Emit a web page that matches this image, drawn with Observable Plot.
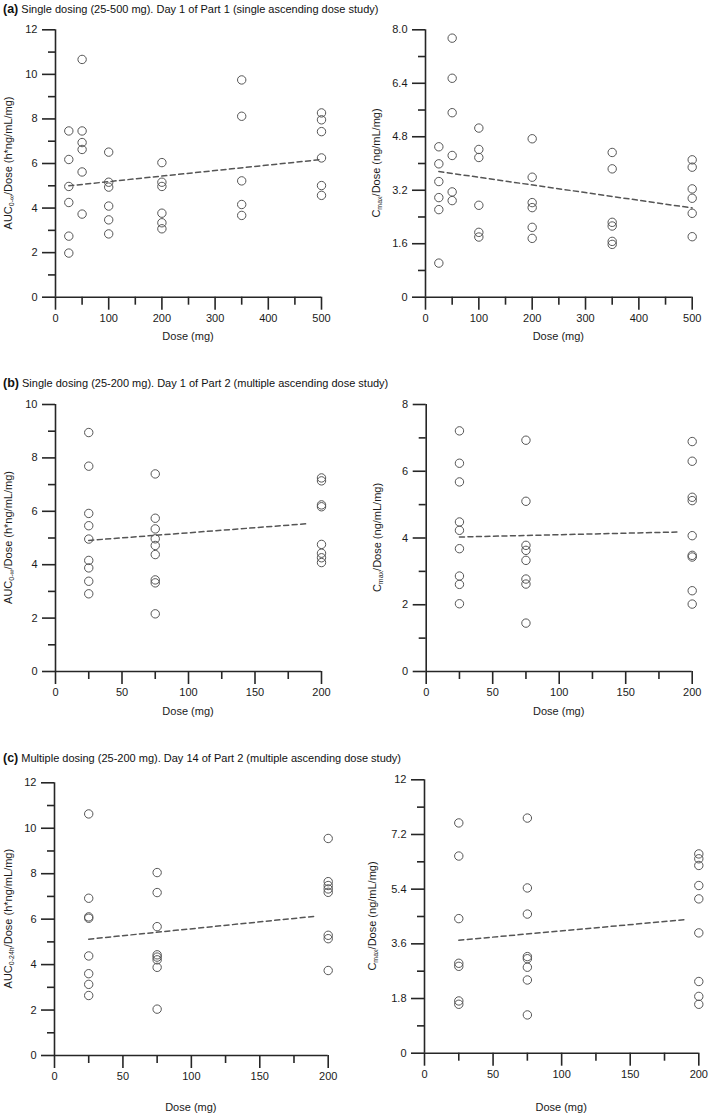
<!DOCTYPE html>
<html><head><meta charset="utf-8">
<script src="https://cdn.jsdelivr.net/npm/d3@7"></script>
<script src="https://cdn.jsdelivr.net/npm/@observablehq/plot@0.6"></script>
<style>
body{margin:0;background:#fff;font-family:"Liberation Sans",Arial,sans-serif;}
#wrap{position:relative;width:709px;height:1115px;overflow:hidden;}
.title{position:absolute;left:3px;font-size:11px;line-height:14px;color:#111;white-space:nowrap;}
.title b{font-size:12.5px;}
.panel{position:absolute;}
</style></head><body><div id="wrap"></div>
<script>
// ---------- Data ----------
const doseSAD = [25, 50, 100, 200, 350, 500];
const aucSAD = [
  [7.46, 6.18, 4.97, 4.25, 2.74, 1.98],
  [10.67, 7.46, 6.94, 6.63, 5.62, 3.73],
  [6.51, 5.16, 4.94, 4.09, 3.47, 2.84],
  [6.04, 5.16, 4.97, 3.77, 3.34, 3.07],
  [9.75, 8.12, 5.22, 4.16, 3.67],
  [8.27, 7.96, 7.43, 6.25, 5.01, 4.57]
];
const cmaxSAD = [
  [4.50, 3.99, 3.46, 2.98, 2.62, 1.02],
  [7.75, 6.55, 5.52, 4.24, 3.15, 2.89],
  [5.06, 4.42, 4.18, 2.75, 1.94, 1.80],
  [4.74, 3.59, 2.83, 2.68, 2.09, 1.76],
  [4.33, 3.84, 2.24, 2.13, 1.67, 1.58],
  [4.11, 3.89, 3.24, 2.96, 2.51, 1.81]
];
const doseMAD = [25, 75, 200];
const aucMADDay1 = [
  [8.95, 7.69, 5.92, 5.46, 4.96, 4.16, 3.88, 3.38, 2.91],
  [7.40, 5.74, 5.34, 4.97, 4.72, 4.38, 3.43, 3.32, 2.16],
  [7.25, 7.14, 6.24, 6.17, 4.76, 4.43, 4.26, 4.08]
];
const cmaxMADDay1 = [
  [7.21, 6.24, 5.68, 4.48, 4.23, 3.68, 2.86, 2.61, 2.03],
  [6.93, 5.10, 3.78, 3.63, 3.33, 2.77, 2.62, 1.45],
  [6.89, 6.30, 5.22, 5.12, 4.07, 3.48, 3.43, 2.42, 2.02]
];
const aucMADDay14 = [
  [10.63, 6.92, 6.10, 6.04, 4.38, 3.60, 3.13, 2.64],
  [8.05, 7.17, 5.67, 4.43, 4.33, 4.21, 3.88, 2.04],
  [9.55, 7.65, 7.48, 7.33, 7.18, 5.29, 5.14, 3.74]
];
const cmaxMADDay14 = [
  [7.58, 6.49, 4.43, 2.96, 2.86, 1.72, 1.61],
  [7.74, 5.44, 4.58, 3.18, 3.11, 2.83, 2.41, 1.26],
  [6.56, 6.40, 6.18, 5.52, 5.08, 3.96, 2.36, 1.87, 1.61]
];
// trend lines (regression)
const trendAucSAD_x = [25, 500], trendAucSAD_y = [5.0, 6.18];
const trendCmaxSAD_x = [25, 500], trendCmaxSAD_y = [3.76, 2.67];
const trendAucD1_x = [25, 188], trendAucD1_y = [4.91, 5.53];
const trendCmaxD1_x = [25, 190], trendCmaxD1_y = [4.03, 4.18];
const trendAucD14_x = [25, 191], trendAucD14_y = [5.12, 6.13];
const trendCmaxD14_x = [25, 191], trendCmaxD14_y = [3.72, 4.40];

// ticks
const xMajorSAD = [0, 100, 200, 300, 400, 500];
const xMinorSAD = [50, 150, 250, 350, 450];
const xMajorMAD = [0, 50, 100, 150, 200];
const xMinorMAD = [25, 75, 125, 175];
const yMajor12 = [0, 2, 4, 6, 8, 10, 12];
const yMinor12 = [1, 3, 5, 7, 9, 11];
const yMajor10 = [0, 2, 4, 6, 8, 10];
const yMinor10 = [1, 3, 5, 7, 9];
const yMajor8 = [0, 2, 4, 6, 8];
const yMinor8 = [1, 3, 5, 7];
const yMajorCmaxSAD = [0, 1.6, 3.2, 4.8, 6.4, 8.0];
const yLabelsCmaxSAD = ["0", "1.6", "3.2", "4.8", "6.4", "8.0"];
const yMinorCmaxSAD = [0.8, 2.4, 4.0, 5.6, 7.2];
const yMajorCmaxD14 = [0, 1.8, 3.6, 5.4, 7.2, 9.0];
const yLabelsCmaxD14 = ["0", "1.8", "3.6", "5.4", "7.2", "12"];
const yMinorCmaxD14 = [0.9, 2.7, 4.5, 6.3, 8.1];

const titles = [
  ["(a)", "Single dosing (25-500 mg). Day 1 of Part 1 (single ascending dose study)"],
  ["(b)", "Single dosing (25-200 mg). Day 1 of Part 2 (multiple ascending dose study)"],
  ["(c)", "Multiple dosing (25-200 mg). Day 14 of Part 2 (multiple ascending dose study)"]
];

// ---------- Drawing ----------
const wrap = document.getElementById("wrap");
const AX = "#262626", PT = "#555";

function makePanel(o) {
  const pts = o.doses.flatMap((d, i) => o.values[i].map(v => ({dose: d, value: v})));
  const trend = o.trendX.map((x, i) => ({dose: x, value: o.trendY[i]}));
  const fmt = o.yLabels ? (d => o.yLabels[o.yMajor.indexOf(d)]) : (d => String(d));
  const svg = Plot.plot({
    width: o.W, height: o.H,
    marginLeft: o.x0 - o.left, marginRight: o.left + o.W - o.x1,
    marginTop: o.yTop - o.top, marginBottom: o.top + o.H - o.yBottom,
    x: {domain: [0, o.xMax]},
    y: {domain: [0, o.yMax]},
    style: {fontFamily: "'Liberation Sans', Arial, sans-serif", fontSize: "11px", color: "#1a1a1a", background: "transparent", overflow: "visible"},
    marks: [
      Plot.axisY({ticks: o.yMinor, tickSize: 7, tickFormat: () => "", stroke: AX, strokeWidth: 1.6, label: null}),
      Plot.axisY({ticks: o.yMajor, tickSize: 13, tickPadding: 5, tickFormat: fmt, stroke: AX, strokeWidth: 1.6, label: null}),
      Plot.axisX({ticks: o.xMinor, tickSize: 8, tickFormat: () => "", stroke: AX, strokeWidth: 1.6, label: null}),
      Plot.axisX({ticks: o.xMajor, tickSize: 13, tickPadding: 4, tickFormat: d => String(d), stroke: AX, strokeWidth: 1.6, label: null}),
      Plot.ruleX([0], {y1: 0, y2: o.yMax, stroke: AX, strokeWidth: 1.6}),
      Plot.ruleY([0], {x1: 0, x2: o.xMax, stroke: AX, strokeWidth: 1.6}),
      Plot.line(trend, {x: "dose", y: "value", stroke: "#555", strokeWidth: 1.5, strokeDasharray: "5,3.5"}),
      Plot.dot(pts, {x: "dose", y: "value", r: 4.2, stroke: PT, strokeWidth: 1, fill: "none"})
    ]
  });
  const s = d3.select(svg);
  // x label
  s.append("text")
    .attr("x", (o.x0 + o.x1) / 2 - o.left).attr("y", o.xLabelY - o.top)
    .attr("text-anchor", "middle").attr("dominant-baseline", "central")
    .attr("font-size", 11).attr("fill", "#1a1a1a").text("Dose (mg)");
  // y label with subscript
  const cy = (o.yTop + o.yBottom) / 2 - o.top;
  const t = s.append("text")
    .attr("transform", `translate(${o.yLabelX - o.left},${cy}) rotate(-90)`)
    .attr("text-anchor", "middle").attr("dominant-baseline", "central")
    .attr("font-size", 11).attr("fill", "#1a1a1a");
  t.append("tspan").text(o.yl[0]);
  t.append("tspan").attr("font-size", 7).attr("dy", 3).text(o.yl[1]);
  t.append("tspan").attr("dy", -3).text(o.yl[2]);
  svg.classList.add("panel");
  svg.style.position = "absolute";
  svg.style.left = o.left + "px";
  svg.style.top = o.top + "px";
  svg.style.maxWidth = "none";
  wrap.appendChild(svg);
}

const L = {left: 0, W: 354}, R = {left: 354, W: 355};
const rowA = {top: 18, H: 330}, rowB = {top: 392, H: 330}, rowC = {top: 768, H: 347};

makePanel({...L, ...rowA, x0: 55, x1: 321, yTop: 29.3, yBottom: 296.7, xMax: 500, yMax: 12,
  doses: doseSAD, values: aucSAD, trendX: trendAucSAD_x, trendY: trendAucSAD_y,
  xMajor: xMajorSAD, xMinor: xMinorSAD, yMajor: yMajor12, yMinor: yMinor12,
  xLabelY: 336, yLabelX: 8, yl: ["AUC", "0-\u221e", "/Dose (h*ng/mL/mg)"]});
makePanel({...R, ...rowA, x0: 425, x1: 691.7, yTop: 29.3, yBottom: 296.7, xMax: 500, yMax: 8,
  doses: doseSAD, values: cmaxSAD, trendX: trendCmaxSAD_x, trendY: trendCmaxSAD_y,
  xMajor: xMajorSAD, xMinor: xMinorSAD, yMajor: yMajorCmaxSAD, yLabels: yLabelsCmaxSAD, yMinor: yMinorCmaxSAD,
  xLabelY: 336, yLabelX: 376, yl: ["C", "max", "/Dose (ng/mL/mg)"]});
makePanel({...L, ...rowB, x0: 55, x1: 321, yTop: 404, yBottom: 671, xMax: 200, yMax: 10,
  doses: doseMAD, values: aucMADDay1, trendX: trendAucD1_x, trendY: trendAucD1_y,
  xMajor: xMajorMAD, xMinor: xMinorMAD, yMajor: yMajor10, yMinor: yMinor10,
  xLabelY: 711, yLabelX: 8, yl: ["AUC", "0-\u221e", "/Dose (h*ng/mL/mg)"]});
makePanel({...R, ...rowB, x0: 425.7, x1: 691.7, yTop: 404, yBottom: 671, xMax: 200, yMax: 8,
  doses: doseMAD, values: cmaxMADDay1, trendX: trendCmaxD1_x, trendY: trendCmaxD1_y,
  xMajor: xMajorMAD, xMinor: xMinorMAD, yMajor: yMajor8, yMinor: yMinor8,
  xLabelY: 711, yLabelX: 377, yl: ["C", "max", "/Dose (ng/mL/mg)"]});
makePanel({...L, ...rowC, x0: 54, x1: 327.7, yTop: 782.3, yBottom: 1055, xMax: 200, yMax: 12,
  doses: doseMAD, values: aucMADDay14, trendX: trendAucD14_x, trendY: trendAucD14_y,
  xMajor: xMajorMAD, xMinor: xMinorMAD, yMajor: yMajor12, yMinor: yMinor12,
  xLabelY: 1107, yLabelX: 8, yl: ["AUC", "0-24h", "/Dose (h*ng/mL/mg)"]});
makePanel({...R, ...rowC, x0: 424, x1: 698.3, yTop: 779.3, yBottom: 1052.7, xMax: 200, yMax: 9,
  doses: doseMAD, values: cmaxMADDay14, trendX: trendCmaxD14_x, trendY: trendCmaxD14_y,
  xMajor: xMajorMAD, xMinor: xMinorMAD, yMajor: yMajorCmaxD14, yLabels: yLabelsCmaxD14, yMinor: yMinorCmaxD14,
  xLabelY: 1107, yLabelX: 372, yl: ["C", "max", "/Dose (ng/mL/mg)"]});

// titles
const titleTops = [2, 376, 751];
titles.forEach((tt, i) => {
  const d = document.createElement("div");
  d.className = "title";
  d.style.top = titleTops[i] + "px";
  d.innerHTML = "<b></b> <span></span>";
  d.querySelector("b").textContent = tt[0];
  d.querySelector("span").textContent = tt[1];
  wrap.appendChild(d);
});
</script></body></html>
